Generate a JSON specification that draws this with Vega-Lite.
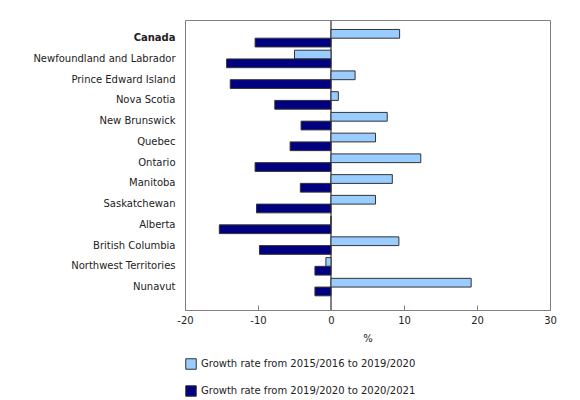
{
  "$schema": "https://vega.github.io/schema/vega-lite/v6.json",
  "width": 365,
  "height": 290,
  "autosize": "none",
  "padding": {"left": 185, "top": 20, "right": 30, "bottom": 90},
  "background": "white",
  "config": {
    "font": "DejaVu Sans",
    "view": {"stroke": "#808080", "strokeWidth": 1},
    "axis": {"labelFont": "DejaVu Sans", "titleFont": "DejaVu Sans", "labelColor": "#222222", "titleColor": "#222222"},
    "legend": {"labelFont": "DejaVu Sans"}
  },
  "data": {
    "values": [
      {"region": "Canada", "series": "Growth rate from 2015/2016 to 2019/2020", "value": 9.4},
      {"region": "Canada", "series": "Growth rate from 2019/2020 to 2020/2021", "value": -10.4},
      {"region": "Newfoundland and Labrador", "series": "Growth rate from 2015/2016 to 2019/2020", "value": -5.0},
      {"region": "Newfoundland and Labrador", "series": "Growth rate from 2019/2020 to 2020/2021", "value": -14.3},
      {"region": "Prince Edward Island", "series": "Growth rate from 2015/2016 to 2019/2020", "value": 3.3},
      {"region": "Prince Edward Island", "series": "Growth rate from 2019/2020 to 2020/2021", "value": -13.8},
      {"region": "Nova Scotia", "series": "Growth rate from 2015/2016 to 2019/2020", "value": 1.0},
      {"region": "Nova Scotia", "series": "Growth rate from 2019/2020 to 2020/2021", "value": -7.7},
      {"region": "New Brunswick", "series": "Growth rate from 2015/2016 to 2019/2020", "value": 7.7},
      {"region": "New Brunswick", "series": "Growth rate from 2019/2020 to 2020/2021", "value": -4.1},
      {"region": "Quebec", "series": "Growth rate from 2015/2016 to 2019/2020", "value": 6.1},
      {"region": "Quebec", "series": "Growth rate from 2019/2020 to 2020/2021", "value": -5.6},
      {"region": "Ontario", "series": "Growth rate from 2015/2016 to 2019/2020", "value": 12.3},
      {"region": "Ontario", "series": "Growth rate from 2019/2020 to 2020/2021", "value": -10.4},
      {"region": "Manitoba", "series": "Growth rate from 2015/2016 to 2019/2020", "value": 8.4},
      {"region": "Manitoba", "series": "Growth rate from 2019/2020 to 2020/2021", "value": -4.2},
      {"region": "Saskatchewan", "series": "Growth rate from 2015/2016 to 2019/2020", "value": 6.1},
      {"region": "Saskatchewan", "series": "Growth rate from 2019/2020 to 2020/2021", "value": -10.2},
      {"region": "Alberta", "series": "Growth rate from 2015/2016 to 2019/2020", "value": 0.0},
      {"region": "Alberta", "series": "Growth rate from 2019/2020 to 2020/2021", "value": -15.3},
      {"region": "British Columbia", "series": "Growth rate from 2015/2016 to 2019/2020", "value": 9.3},
      {"region": "British Columbia", "series": "Growth rate from 2019/2020 to 2020/2021", "value": -9.8},
      {"region": "Northwest Territories", "series": "Growth rate from 2015/2016 to 2019/2020", "value": -0.7},
      {"region": "Northwest Territories", "series": "Growth rate from 2019/2020 to 2020/2021", "value": -2.2},
      {"region": "Nunavut", "series": "Growth rate from 2015/2016 to 2019/2020", "value": 19.2},
      {"region": "Nunavut", "series": "Growth rate from 2019/2020 to 2020/2021", "value": -2.2}
    ]
  },
  "layer": [
    {
      "mark": {"type": "rule", "color": "#808080", "strokeWidth": 1},
      "encoding": {"x": {"datum": 0, "type": "quantitative"}}
    },
    {
      "mark": {"type": "bar", "stroke": "#333333", "strokeWidth": 1},
      "encoding": {
        "y": {
          "field": "region", "type": "nominal", "sort": null,
          "scale": {"paddingInner": 0.157, "paddingOuter": 0.57, "align": 0.4},
          "axis": {
            "title": null, "domain": false, "ticks": false, "labelPadding": 10,
            "labelFontSize": 10, "labelLimit": 300,
            "labelFontWeight": {"condition": {"test": "datum.value == 'Canada'", "value": "bold"}, "value": "normal"}
          }
        },
        "yOffset": {"field": "series", "type": "nominal", "sort": null},
        "x": {
          "field": "value", "type": "quantitative",
          "scale": {"domain": [-20, 30], "nice": false, "zero": false},
          "axis": {
            "title": "%", "grid": false, "values": [-20, -10, 0, 10, 20, 30],
            "labelExpr": "replace(datum.label, '\u2212', '-')",
            "domainColor": "#808080", "tickColor": "#808080", "tickSize": -5,
            "labelFontSize": 10, "labelPadding": 10, "titleFontSize": 10,
            "titleFontWeight": "normal", "titlePadding": 8, "labelFlush": false
          }
        },
        "color": {
          "field": "series", "type": "nominal", "sort": null,
          "scale": {"range": ["#99CCFF", "#000080"]},
          "legend": {
            "title": null, "orient": "none", "legendX": 0, "legendY": 338,
            "direction": "vertical", "symbolType": "square", "symbolSize": 110,
            "symbolStrokeColor": "#333333", "symbolStrokeWidth": 1,
            "labelFontSize": 10, "labelColor": "#222222", "rowPadding": 11,
            "labelOffset": 4, "labelLimit": 400
          }
        }
      }
    }
  ]
}
